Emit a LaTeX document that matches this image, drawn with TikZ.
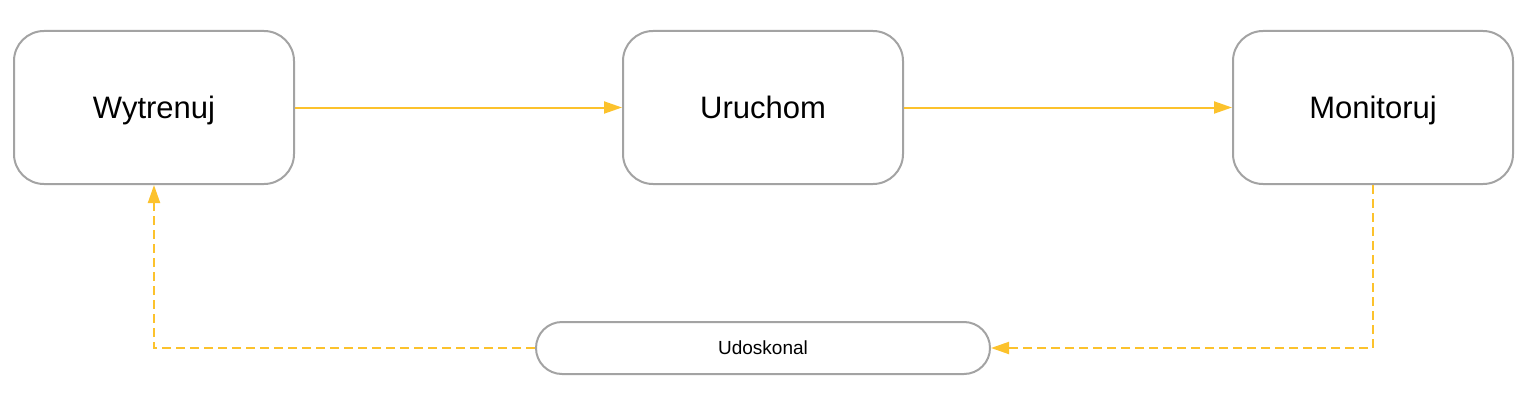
\documentclass[tikz,border=0pt]{standalone}
\usepackage{fontspec}
\setmainfont{Liberation Sans}
\usepackage{tikz}
\usetikzlibrary{arrows.meta}
\definecolor{gelb}{RGB}{252,194,44}
\definecolor{rand}{RGB}{163,163,163}
\tikzset{
	etappe/.style={draw=rand,line width=2pt,rounded corners=30pt,minimum width=280pt,minimum height=153pt,inner sep=0pt,text height=22pt,text depth=0pt,font=\fontsize{31}{37}\selectfont},
	zurueck/.style={draw=rand,line width=2pt,rounded corners=26pt,minimum width=454pt,minimum height=52pt,inner sep=0pt,text height=13.5pt,text depth=0pt,font=\fontsize{19}{23}\selectfont},
	fluss/.style={gelb,line width=2pt,-{Triangle[length=18pt,width=12pt]}},
	schleife/.style={fluss,dash pattern=on 9pt off 5pt}
}
\begin{document}
\begin{tikzpicture}[x=1pt,y=-1pt]
		\useasboundingbox (0,0) rectangle (1528,404);
		\node[etappe] (wyt) at (154,107.5) {Wytrenuj};
		\node[etappe] (uru) at (763,107.5) {Uruchom};
		\node[etappe] (mon) at (1373,107.5) {Monitoruj};
		\node[zurueck] (udo) at (763,348) {Udoskonal};
		\draw[fluss] (wyt.east) -- (uru.west);
		\draw[fluss] (uru.east) -- (mon.west);
		\draw[schleife] (mon.south) |- (udo.east);
		\draw[schleife] (udo.west) -| (wyt.south);
	\end{tikzpicture}
\end{document}
